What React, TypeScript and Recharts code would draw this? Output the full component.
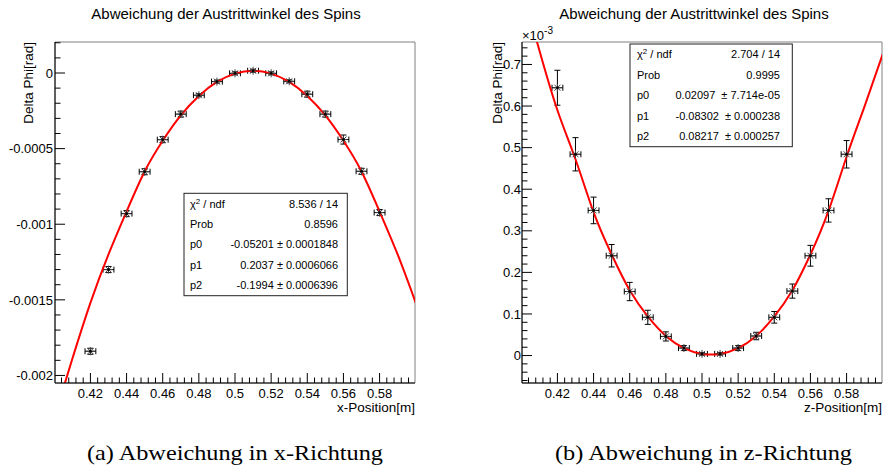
import React from 'react';
import { ComposedChart, Line, Scatter, XAxis, YAxis, ErrorBar, ReferenceArea } from 'recharts';

// measured positions (m) and deviations
const xPos = [0.42, 0.43, 0.44, 0.45, 0.46, 0.47, 0.48, 0.49, 0.5, 0.51, 0.52, 0.53, 0.54, 0.55, 0.56, 0.57, 0.58];
const posErr = [0.003, 0.003, 0.003, 0.003, 0.003, 0.003, 0.003, 0.003, 0.003, 0.003, 0.003, 0.003, 0.003, 0.003, 0.003, 0.003, 0.003];

// (a) x-Richtung, rad
const phiX = [-0.00184, -0.0013, -0.00093, -0.000653, -0.000441, -0.000272, -0.000147, -0.000057, -0.000002, 0.000015, -0.000002, -0.000055, -0.00014, -0.000272, -0.00044, -0.00065, -0.000923];
const phiXErr = [0.00002, 0.00002, 0.00002, 0.00002, 0.00002, 0.00002, 0.00001, 0.00001, 0.00001, 0.00001, 0.00001, 0.00001, 0.00002, 0.00002, 0.00003, 0.00002, 0.00002];

// (b) z-Richtung, in 1e-3 rad
const phiZ = [0.644, 0.484, 0.349, 0.24, 0.154, 0.092, 0.046, 0.018, 0.004, 0.004, 0.018, 0.047, 0.092, 0.155, 0.24, 0.349, 0.484];
const phiZErr = [0.042, 0.04, 0.032, 0.027, 0.022, 0.017, 0.011, 0.006, 0.003, 0.003, 0.006, 0.009, 0.014, 0.017, 0.025, 0.028, 0.033];

// fit curves
const fitPos = [0.4, 0.41, 0.42, 0.43, 0.44, 0.45, 0.46, 0.47, 0.48, 0.49, 0.5, 0.51, 0.52, 0.53, 0.54, 0.55, 0.56, 0.57, 0.58, 0.59, 0.6];
const fitX = [-0.00228, -0.00189, -0.00152, -0.0012, -0.000916, -0.000651, -0.000448, -0.000281, -0.000152, -0.000059, -0.000004, 0.000015, -0.000004, -0.000059, -0.000152, -0.000281, -0.000448, -0.000651, -0.000916, -0.0012, -0.00152];
const fitZ = [0.89, 0.734, 0.59, 0.472, 0.345, 0.243, 0.157, 0.094, 0.047, 0.018, 0.004, 0.004, 0.018, 0.047, 0.094, 0.157, 0.243, 0.348, 0.478, 0.6, 0.725];

const xTicks = [0.42, 0.44, 0.46, 0.48, 0.5, 0.52, 0.54, 0.56, 0.58];
const yTicksX = [0, -0.0005, -0.001, -0.0015, -0.002];
const yTicksZ = [0, 0.1, 0.2, 0.3, 0.4, 0.5, 0.6, 0.7];

const statsLabels = ['χ2 / ndf', 'Prob', 'p0', 'p1', 'p2'];
const statsX = ['8.536 / 14', '0.8596', '-0.05201 ± 0.0001848', '0.2037 ± 0.0006066', '-0.1994 ± 0.0006396'];
const statsZ = ['2.704 / 14', '0.9995', '0.02097  ± 7.714e-05', '-0.08302  ± 0.000238', '0.08217  ± 0.000257'];

const TITLE = 'Abweichung der Austrittwinkel des Spins';
const FONT = '"Liberation Sans", Arial, sans-serif';
const X_DOMAIN = [0.4004, 0.5996];

const range = (from: number, step: number, n: number, dig: number) =>
  Array.from({ length: n }, (_, i) => Number((from + step * i).toFixed(dig)));

const xAllTicks = range(0.404, 0.004, 49, 3);
const yAllTicksX = range(-0.002, 0.0001, 23, 4);
const yAllTicksZ = range(-0.06, 0.02, 41, 2);

const isIn = (v: number, arr: number[]) => arr.some((t) => Math.abs(t - v) < 1e-9);

const XTick = (props: any) => {
  const { x, y, payload } = props;
  const v = payload.value;
  const major = isIn(v, xTicks);
  return (
    <g>
      <line x1={x} x2={x} y1={y} y2={y - (major ? 10 : 5.5)} stroke="#000" />
      {major && (
        <text x={x} y={y + 15} textAnchor="middle" fontSize={13} fontFamily={FONT} fill="#000">
          {String(v)}
        </text>
      )}
    </g>
  );
};

const makeYTick = (majors: number[], gap: number) => (props: any) => {
  const { x, y, payload } = props;
  const v = payload.value;
  const major = isIn(v, majors);
  return (
    <g>
      <line x1={x} x2={x + (major ? 10 : 5.5)} y1={y} y2={y} stroke="#000" />
      {major && (
        <text x={x - gap} y={y} dy="0.36em" textAnchor="end" fontSize={13} fontFamily={FONT} fill="#000">
          {String(Math.abs(v) < 1e-12 ? 0 : v)}
        </text>
      )}
    </g>
  );
};

const Star = (props: any) => {
  const { cx, cy } = props;
  if (cx == null || cy == null) return null;
  const r = 4;
  const d = 3;
  return (
    <g stroke="#444" strokeWidth={1}>
      <line x1={cx - r} y1={cy} x2={cx + r} y2={cy} />
      <line x1={cx} y1={cy - r} x2={cx} y2={cy + r} />
      <line x1={cx - d} y1={cy - d} x2={cx + d} y2={cy + d} />
      <line x1={cx - d} y1={cy + d} x2={cx + d} y2={cy - d} />
      <circle cx={cx} cy={cy} r={1.3} fill="#000" stroke="none" />
    </g>
  );
};

const ptsX = xPos.map((x, i) => ({ x, y: phiX[i], ex: posErr[i], ey: phiXErr[i] }));
const ptsZ = xPos.map((x, i) => ({ x, y: phiZ[i], ex: posErr[i], ey: phiZErr[i] }));
const curveX = fitPos.map((x, i) => ({ x, y: fitX[i] }));
const curveZ = fitPos.map((x, i) => ({ x, y: fitZ[i] }));

type PanelProps = {
  pts: any[];
  curve: any[];
  yDomain: number[];
  yAll: number[];
  yMajor: number[];
  yAxisWidth: number;
  width: number;
  rightMargin: number;
  labelGap: number;
};

const Panel = ({ pts, curve, yDomain, yAll, yMajor, yAxisWidth, width, rightMargin, labelGap }: PanelProps) => (
  <ComposedChart width={width} height={466} margin={{ top: 42, right: rightMargin, left: 0, bottom: 0 }}>
    <XAxis
      dataKey="x"
      type="number"
      domain={X_DOMAIN}
      allowDataOverflow
      ticks={xAllTicks}
      interval={0}
      tickSize={0}
      tickMargin={0}
      tickLine={false}
      tick={<XTick />}
      axisLine={{ stroke: '#000' }}
      height={83}
    />
    <YAxis
      type="number"
      domain={yDomain}
      allowDataOverflow
      ticks={yAll}
      interval={0}
      tickSize={0}
      tickMargin={0}
      tickLine={false}
      tick={makeYTick(yMajor, labelGap)}
      axisLine={{ stroke: '#000' }}
      width={yAxisWidth}
    />
    <ReferenceArea x1={X_DOMAIN[0]} x2={X_DOMAIN[1]} y1={yDomain[0]} y2={yDomain[1]} fill="none" stroke="#808080" />
    <Scatter data={pts} dataKey="y" shape={<Star />} isAnimationActive={false}>
      <ErrorBar dataKey="ex" direction="x" width={3} stroke="#000" strokeWidth={1} isAnimationActive={false} />
      <ErrorBar dataKey="ey" direction="y" width={3} stroke="#000" strokeWidth={1} isAnimationActive={false} />
    </Scatter>
    <Line data={curve} dataKey="y" type="natural" stroke="#ff0000" strokeWidth={2} dot={false} isAnimationActive={false} />
  </ComposedChart>
);

const StatsBox = ({ x, y, w, h, tx, vx, values }: any) => {
  const row = h / 5;
  return (
    <g fontFamily={FONT} fontSize={11} fill="#000">
      <rect x={x} y={y} width={w} height={h} fill="#fff" stroke="#222" strokeWidth={1} />
      {statsLabels.map((lab, i) => {
        const cy = y + row * (i + 0.5);
        return (
          <g key={lab}>
            {i === 0 ? (
              <text x={tx} y={cy} dy="0.36em">
                χ<tspan dy={-4} fontSize={8}>2</tspan>
                <tspan dy={4}> / ndf</tspan>
              </text>
            ) : (
              <text x={tx} y={cy} dy="0.36em">{lab}</text>
            )}
            <text x={vx} y={cy} dy="0.36em" textAnchor="end" style={{ whiteSpace: 'pre' }}>
              {values[i]}
            </text>
          </g>
        );
      })}
    </g>
  );
};

export default function App() {
  return (
    <div style={{ position: 'absolute', left: 0, top: 0, width: 883, height: 466, background: '#fff', overflow: 'hidden' }}>
      <div style={{ position: 'absolute', left: 0, top: 0 }}>
        <Panel
          pts={ptsX}
          curve={curveX}
          yDomain={[-0.00205, 0.000205]}
          yAll={yAllTicksX}
          yMajor={yTicksX}
          yAxisWidth={55}
          width={440}
          rightMargin={25}
          labelGap={2}
        />
      </div>
      <div style={{ position: 'absolute', left: 440, top: 0 }}>
        <Panel
          pts={ptsZ}
          curve={curveZ}
          yDomain={[-0.066, 0.754]}
          yAll={yAllTicksZ}
          yMajor={yTicksZ}
          yAxisWidth={82}
          width={443}
          rightMargin={1}
          labelGap={1}
        />
      </div>
      <svg width={883} height={466} style={{ position: 'absolute', left: 0, top: 0, pointerEvents: 'none' }}>
        <g fontFamily={FONT} fill="#000">
          <text x={226} y={19} textAnchor="middle" fontSize={15}>{TITLE}</text>
          <text x={694} y={19} textAnchor="middle" fontSize={15}>{TITLE}</text>
          <text x={415} y={412} textAnchor="end" fontSize={13.5}>x-Position[m]</text>
          <text x={882} y={412} textAnchor="end" fontSize={13.5}>z-Position[m]</text>
          <text transform="translate(33,42) rotate(-90)" textAnchor="end" fontSize={13.5}>Delta Phi[rad]</text>
          <text transform="translate(502,42) rotate(-90)" textAnchor="end" fontSize={13.5}>Delta Phi[rad]</text>
          <text x={522} y={40} fontSize={13}>
            ×10<tspan dy={-6} fontSize={10}>-3</tspan>
          </text>
        </g>
        <StatsBox x={184} y={193.3} w={163.3} h={102.4} tx={190} vx={338} values={statsX} />
        <StatsBox x={630} y={44} w={162.3} h={102.7} tx={637} vx={780} values={statsZ} />
        <g fontFamily={'"Liberation Serif", "Times New Roman", serif'} fontSize={21} fill="#000">
          <text x={87} y={460} textLength={296} lengthAdjust="spacingAndGlyphs">(a)  Abweichung in x-Richtung</text>
          <text x={555} y={460} textLength={297} lengthAdjust="spacingAndGlyphs">(b)  Abweichung in z-Richtung</text>
        </g>
      </svg>
    </div>
  );
}
